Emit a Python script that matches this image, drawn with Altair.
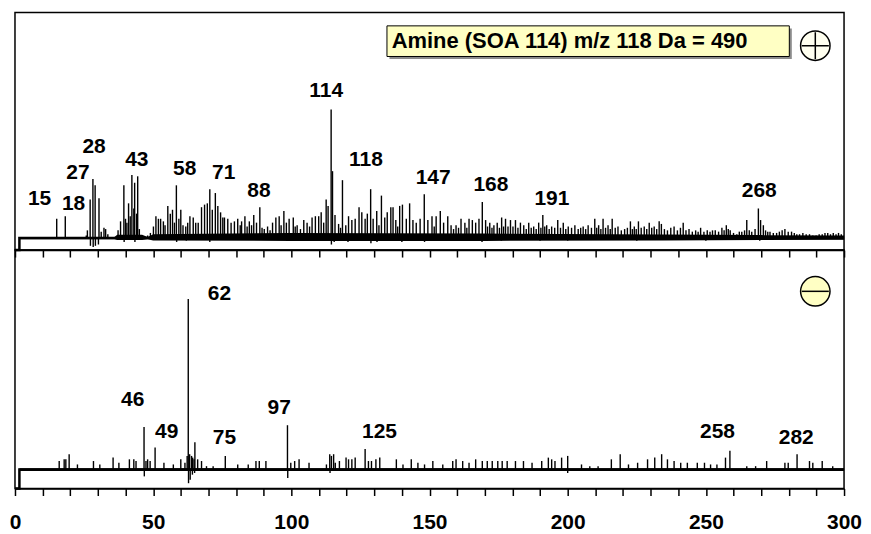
import altair as alt
import pandas as pd

# ---------------- positive-ion spectrum (relative intensity, m/z 114 = 100) ----------------
pos_mz = [15.1, 18.2, 25.8, 26.2, 27.2, 28.2, 29.0, 30.4, 31.2, 32.2, 32.8, 33.6, 37.3, 38.2, 39.4, 40.0, 40.5, 41.1, 41.7,
          42.3, 43.0, 43.3, 44.0, 44.4, 45.0, 46.0, 47.0, 48.0, 49.0, 50.1,
          51.0, 51.9, 52.7, 53.7, 54.3, 55.3, 56.2, 57.0, 57.7, 58.4, 59.3, 60.0, 60.8, 61.8, 62.5, 63.3, 64.5, 65.4, 66.3,
          67.5, 68.6, 69.6, 70.5, 71.4, 72.5, 73.4, 74.4, 75.2, 75.8, 77.0, 78.2, 79.4, 80.6, 81.5, 82.0, 83.2, 84.0, 84.8,
          85.6, 86.4, 87.4, 88.6, 89.4, 90.2, 91.4, 92.3, 93.2, 94.4, 95.6, 96.3, 97.3, 98.2, 99.2,
          100.7, 101.4, 102.1, 103.3, 104.5, 105.7, 106.6, 107.5, 108.7, 109.9, 110.8, 111.7, 112.6, 113.3, 114.4, 114.9,
          115.8, 117.1, 117.8, 118.5, 119.7, 120.7, 121.9, 123.1, 124.5, 125.5, 126.7, 127.5, 128.7, 129.6, 130.9, 131.7,
          132.6, 133.8, 134.7, 136.0, 136.8, 137.8, 138.5, 139.2, 140.2, 141.6, 142.8, 144.0, 145.2, 146.6, 148.1, 149.4,
          150.9, 151.7, 152.4, 153.9, 155.1, 156.6, 157.8, 158.7, 159.6, 160.5, 161.4, 162.8, 163.5, 164.3, 165.5, 166.7,
          167.9, 169.1,
          170.3, 171.0, 171.8, 172.6, 173.3, 174.5, 175.3, 176.1, 176.8, 177.5, 178.4, 179.3, 180.2, 181.1, 182.0, 182.9,
          184.1, 185.0, 185.9, 186.8, 187.7, 188.6, 189.5, 190.3, 191.0, 191.7, 192.4, 193.3, 194.2, 195.3, 196.4, 197.4,
          198.4, 199.3, 200.2, 201.4, 202.6, 203.8, 204.7, 205.6, 206.5, 207.4, 208.6, 209.8, 210.5, 211.2, 212.0, 212.8,
          213.7, 214.6, 215.4, 216.1, 217.2, 218.2, 219.4, 220.6, 221.6, 222.7, 223.4, 224.1, 224.8, 225.6, 226.6, 227.7,
          228.6, 229.5, 230.4, 231.3, 232.2, 233.1, 233.9,
          235.0, 236.1, 237.3, 238.5, 239.7, 240.8, 241.8, 242.8, 243.9, 245.1, 246.3, 247.2, 248.1, 249.3, 250.5, 251.5,
          252.4, 253.4, 254.6, 255.8, 256.6, 257.4, 258.1, 258.8, 260.0, 261.2, 262.1, 263.0, 264.0, 264.8, 265.7, 266.6,
          267.8, 269.0, 269.8, 270.8, 271.6, 272.4, 273.2, 274.4, 275.6, 276.6, 277.6, 278.6, 279.8, 281.0, 282.0, 282.9,
          283.9, 285.1, 286.3, 287.5, 288.7, 289.9, 291.0, 292.1, 293.1, 294.1, 295.1, 296.1, 297.1, 298.0, 299.0]
pos_int = [15, 17, 2, 6, 30, 46, 41, 31, 5, 8, 7, 3, 6, 13, 41, 15, 12, 27, 17,
           49, 23, 43, 19, 48, 7, 2, 1, 2, 4, 9,
           17, 15, 15, 13, 10, 25, 19, 22, 12, 41, 15, 22, 10, 9, 12, 17, 16, 12, 12,
           24, 26, 27, 38, 22, 35, 25, 20, 16, 16, 15, 12, 13, 15, 10, 13, 17, 9, 13,
           10, 18, 12, 24, 8, 7, 9, 6, 12, 16, 17, 10, 21, 12, 15,
           16, 9, 10, 7, 14, 12, 9, 16, 17, 17, 20, 12, 30, 25, 100, 52,
           18, 11, 8, 45, 10, 17, 14, 15, 24, 20, 15, 19, 38, 15, 21, 10,
           33, 16, 20, 24, 24, 14, 9, 25, 26, 15, 27, 14, 12, 15, 34, 14,
           17, 9, 17, 21, 12, 17, 10, 7, 10, 8, 15, 12, 8, 15, 14, 12,
           15, 28,
           14, 9, 12, 8, 10, 12, 8, 16, 9, 15, 9, 14, 9, 14, 8, 12,
           10, 7, 12, 8, 9, 7, 12, 8, 18, 9, 10, 7, 9, 8, 14, 8,
           12, 7, 9, 8, 10, 7, 8, 9, 7, 10, 8, 15, 8, 10, 7, 15,
           8, 10, 7, 15, 8, 9, 6, 7, 8, 13, 7, 9, 7, 13, 8, 9,
           7, 12, 8, 9, 7, 13, 11,
           7, 6, 8, 9, 6, 8, 12, 6, 7, 5, 6, 5, 8, 5, 6, 5,
           6, 6, 5, 8, 6, 10, 7, 6, 4, 3, 5, 5, 6, 14, 6, 5,
           7, 23, 14, 10, 6, 5, 5, 4, 4, 5, 6, 7, 5, 5, 4, 3,
           3, 4, 3, 3, 2, 2, 3, 3, 4, 4, 3, 4, 3, 4, 3]
pos_dip_mz = [27.3, 28.3, 29.1, 30.2, 39.5, 43.4, 58.5, 62.0, 70.5, 114.5, 115.5, 120.5, 128.8, 131.0, 140.0,
              148.2, 169.0, 176.0, 190.0, 200.0, 225.0, 250.0, 269.5]
pos_dip_int = [-6, -7, -6, -5, -3, -3, -3, -2, -3, -5, -3, -3, -4, -3, -3, -3, -3, -2, -2, -2, -2, -2, -2]

# envelope of the dense noise band around the positive baseline
pos_band_mz = [1.6, 36.0, 37.0, 46.0, 48.0, 50.0, 100.0, 170.0, 235.0, 270.0, 300.0]
pos_band_lo = [-0.9, -0.9, -1.5, -1.5, -0.9, -1.8, -2.2, -2.2, -1.8, -1.5, -1.2]
pos_band_hi = [0.9, 0.9, 2.5, 2.5, 0.9, 3.0, 4.0, 3.5, 2.8, 2.3, 2.0]

pos_label_text = ["15", "18", "27", "28", "43", "58", "71", "88", "114", "118", "147", "168", "191", "268"]
pos_label_mz = [8.9, 21.2, 22.8, 28.6, 44.1, 61.4, 75.5, 88.3, 112.6, 127.0, 151.3, 172.2, 194.3, 269.3]
pos_label_y = [30.5, 26.6, 50.6, 70.5, 60.7, 53.7, 50.6, 36.2, 114.5, 61.0, 46.5, 41.3, 30.5, 36.2]

# ---------------- negative-ion spectrum (relative intensity, m/z 62 = 100) ----------------
neg_mz = [16.0, 17.8, 18.4, 19.6, 22.6, 28.4, 30.7, 35.5, 37.6, 41.4, 43.0, 43.8, 46.7, 47.4, 48.0, 48.9, 50.7, 53.9,
          57.3, 60.0, 61.5, 62.3, 62.7, 63.2, 63.9, 64.3, 64.8, 65.1, 66.1, 67.5, 69.3, 71.7, 76.1, 80.6, 84.4, 87.2,
          88.4, 90.8, 98.6, 99.8, 101.2, 102.8, 106.4, 112.7, 113.9, 114.5, 115.3, 115.9, 117.4, 119.8, 120.7, 121.9,
          123.1, 126.7, 127.9, 129.0, 130.6, 132.0, 138.0, 140.4, 143.4, 145.8, 148.2, 151.2, 154.8, 158.4, 159.6,
          162.0, 164.3, 166.7, 169.1, 170.9, 172.7, 174.7, 176.3, 178.1, 181.1, 184.0, 187.1, 190.6, 193.0, 194.2,
          195.4, 197.8, 200.0, 205.0, 208.0, 211.0, 215.8, 219.0, 222.0, 225.3, 228.9, 231.5, 234.0, 236.1, 238.5,
          240.9, 243.3, 246.9, 249.5, 251.7, 254.0, 257.1, 258.7, 264.8, 268.0, 272.0, 278.6, 279.8, 283.0, 287.5,
          288.7, 292.1, 295.9]
neg_int = [5, 6, 6, 9, 3, 5, 3, 7, 4, 6, 6, 5, 25, 5, 6, 5, 13, 4,
           3, 6, 4, 8, 100, 9, 8, 7, 6, 16, 6, 5, 2, 2, 8, 3, 3, 5,
           5, 5, 26, 4, 5, 6, 4, 3, 9, 8, 9, 4, 5, 7, 6, 6,
           7, 12, 5, 5, 6, 7, 6, 3, 6, 4, 3, 5, 3, 5, 6,
           5, 4, 6, 5, 5, 5, 5, 5, 5, 5, 5, 4, 5, 7, 6,
           5, 7, 8, 3, 2, 2, 6, 9, 3, 4, 6, 7, 9, 6, 5,
           4, 4, 4, 4, 3, 3, 7, 11, 2, 2, 5, 4, 4, 9, 5,
           4, 5, 2]
neg_dip_mz = [46.8, 62.8, 63.4, 64.2, 65.0, 98.7, 114.0, 200.0]
neg_dip_int = [-4, -8, -6, -3, -2, -5, -2, -2]

neg_band_mz = [1.6, 300.0]
neg_band_lo = [-0.8, -0.8]
neg_band_hi = [0.8, 0.8]

neg_label_text = ["46", "49", "62", "75", "97", "125", "258", "282"]
neg_label_mz = [42.6, 54.9, 74.0, 75.8, 95.6, 131.9, 254.2, 282.7]
neg_label_y = [40.7, 22.2, 102.7, 18.3, 35.8, 22.2, 22.2, 18.3]

# ---------------- annotations ----------------
box_text = "Amine (SOA 114) m/z 118 Da = 490"
box_x, box_x2, box_y, box_y2 = 134.6, 280.2, 141.1, 164.9
box_text_x, box_text_y = 136.3, 153.3
plus_x, plus_y = 289.6, 149.5
minus_x, minus_y = 289.6, 104.5

POS_DOMAIN = [-9.3, 175.2]
NEG_DOMAIN = [-11.1, 128.7]
lead_mz = [0.0, 1.6, 1.6, 300.0]

FONT = "Liberation Sans"
W = 831
ticks = list(range(0, 301, 10))
xs = alt.Scale(domain=[0, 300], nice=False, zero=False)
VIEW = alt.ViewBackground(stroke="black", strokeWidth=1.5)


def make_axis(labels):
    return alt.Axis(values=ticks, labels=labels, labelExpr="datum.value % 50 === 0 ? datum.label : ''",
                    tickSize=7, tickWidth=1.5, tickColor="black", domainColor="black", domainWidth=1.5,
                    grid=False, title=None, labelFont=FONT, labelFontSize=21, labelFontWeight="bold",
                    labelColor="black", labelPadding=16, labelOverlap=False, labelFlush=False)


def panel(mz, inten, dmz, dint, bmz, blo, bhi, lt, lx, ly, domain, height, labels, extras):
    ys = alt.Scale(domain=domain, nice=False, zero=False)
    ax = make_axis(labels)
    sticks = pd.DataFrame({"mz": mz + dmz, "top": inten + dint})
    sticks["base"] = 0.0
    base = pd.DataFrame({"mz": lead_mz, "v": [domain[0], domain[0], 0.0, 0.0], "i": [0, 1, 2, 3]})
    band = pd.DataFrame({"mz": bmz, "lo": blo, "hi": bhi})
    labs = pd.DataFrame({"mz": lx, "y": ly, "t": lt})

    area = alt.Chart(band).mark_area(color="black", opacity=1).encode(
        x=alt.X("mz:Q", scale=xs, axis=ax),
        y=alt.Y("lo:Q", scale=ys, axis=None),
        y2="hi:Q")
    rules = alt.Chart(sticks).mark_rule(color="black", strokeWidth=1.4).encode(
        x=alt.X("mz:Q", scale=xs, axis=ax),
        y=alt.Y("base:Q", scale=ys, axis=None),
        y2="top:Q")
    line = alt.Chart(base).mark_line(color="black", strokeWidth=2.5).encode(
        x=alt.X("mz:Q", scale=xs, axis=ax),
        y=alt.Y("v:Q", scale=ys, axis=None),
        order="i:O")
    text = alt.Chart(labs).mark_text(font=FONT, fontSize=21, fontWeight="bold", color="black",
                                     align="center", baseline="middle").encode(
        x=alt.X("mz:Q", scale=xs, axis=ax),
        y=alt.Y("y:Q", scale=ys, axis=None),
        text="t:N")
    layers = [area, rules, line, text] + [e(ys, ax) for e in extras]
    return alt.layer(*layers).properties(width=W, height=height, view=VIEW)


def box_layers(ys, ax):
    shadow = alt.Chart(pd.DataFrame({"x": [box_x + 0.9], "x2": [box_x2 + 0.9],
                                     "y": [box_y - 2.0], "y2": [box_y2 - 2.0]})).mark_rect(
        color="#8c8c8c").encode(x=alt.X("x:Q", scale=xs, axis=ax), x2="x2:Q",
                                y=alt.Y("y:Q", scale=ys, axis=None), y2="y2:Q")
    box = alt.Chart(pd.DataFrame({"x": [box_x], "x2": [box_x2], "y": [box_y], "y2": [box_y2]})).mark_rect(
        fill="#FFFFC4", stroke="black", strokeWidth=1).encode(
        x=alt.X("x:Q", scale=xs, axis=ax), x2="x2:Q", y=alt.Y("y:Q", scale=ys, axis=None), y2="y2:Q")
    txt = alt.Chart(pd.DataFrame({"x": [box_text_x], "y": [box_text_y], "t": [box_text]})).mark_text(
        font=FONT, fontSize=22, fontWeight="bold", color="black", align="left", baseline="middle").encode(
        x=alt.X("x:Q", scale=xs, axis=ax), y=alt.Y("y:Q", scale=ys, axis=None), text="t:N")
    return alt.layer(shadow, box, txt)


def sign_layers(cx, cy, fill, path):
    def f(ys, ax):
        d = pd.DataFrame({"x": [cx], "y": [cy]})
        circ = alt.Chart(d).mark_point(shape="circle", size=870, filled=True, fill=fill, stroke="black",
                                       strokeWidth=1.5, opacity=1).encode(
            x=alt.X("x:Q", scale=xs, axis=ax), y=alt.Y("y:Q", scale=ys, axis=None))
        sign = alt.Chart(d).mark_point(shape=path, size=870, filled=False, stroke="black",
                                       strokeWidth=1.5, opacity=1).encode(
            x=alt.X("x:Q", scale=xs, axis=ax), y=alt.Y("y:Q", scale=ys, axis=None))
        return alt.layer(circ, sign)
    return f


top = panel(pos_mz, pos_int, pos_dip_mz, pos_dip_int, pos_band_mz, pos_band_lo, pos_band_hi,
            pos_label_text, pos_label_mz, pos_label_y, POS_DOMAIN, 238, False,
            [box_layers, sign_layers(plus_x, plus_y, "#FFFFF0", "M-0.92,0L0.92,0M0,-0.92L0,0.92")])
bottom = panel(neg_mz, neg_int, neg_dip_mz, neg_dip_int, neg_band_mz, neg_band_lo, neg_band_hi,
               neg_label_text, neg_label_mz, neg_label_y, NEG_DOMAIN, 239, True,
               [sign_layers(minus_x, minus_y, "#FFFFC4", "M-0.92,0L0.92,0")])

chart = alt.vconcat(top, bottom, spacing=0, bounds="flush").properties(
    padding={"left": 0, "top": 3, "right": 0, "bottom": 2},
    background="white"
).configure_view(stroke="black", strokeWidth=1.5)

chart.save("out.html", embed_options={"renderer": "svg", "actions": False})
